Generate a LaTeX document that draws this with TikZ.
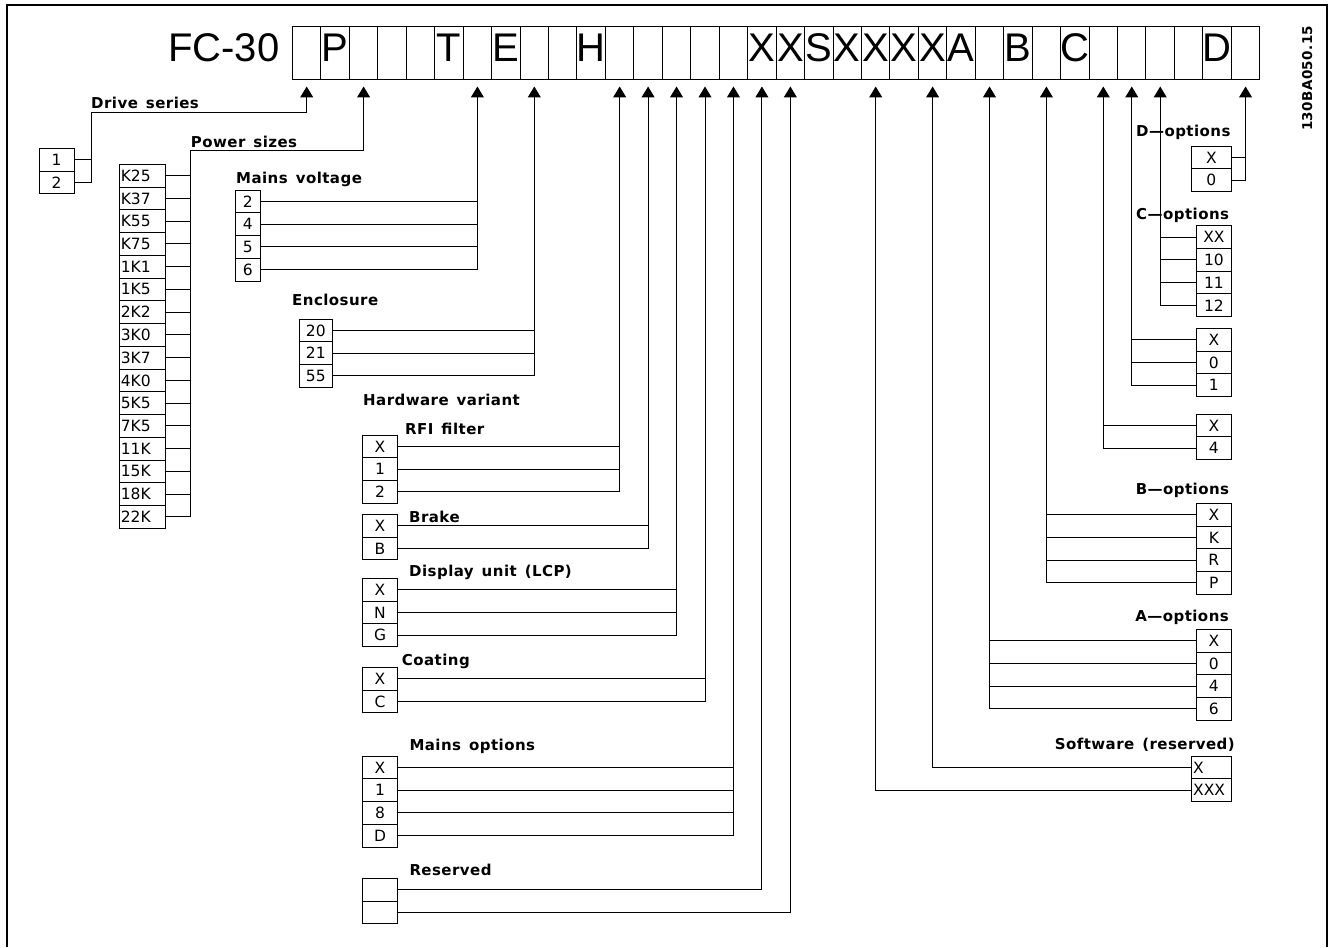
\documentclass[tikz,border=0pt]{standalone}
\usepackage{fontspec}
\setmainfont{DejaVu Sans}
\newfontfamily\codefam{Liberation Sans}
\newfontfamily\lblfam[LetterSpace=3]{DejaVu Sans}
\newcommand\lblfont{\lblfam\bfseries\fontsize{15}{16}\selectfont\spaceskip=8pt\relax}
\usetikzlibrary{positioning,arrows.meta}

\tikzset{
  cell/.style={draw, line width=1pt, minimum width=28.45pt, minimum height=52.6pt,
    inner sep=0pt, text height=29pt, text depth=11.6pt,
    font=\codefam\fontsize{40}{40}\selectfont},
  opt/.style={draw, line width=1pt, minimum height=22.75pt, inner sep=0pt,
    font=\fontsize{15.5}{16}\selectfont},
  lbl/.style={anchor=base west, inner sep=0pt, font=\lblfont},
  lblr/.style={lbl, anchor=base east},
  wire/.style={line width=1pt},
  feed/.style={wire, -{Triangle[length=11pt,width=13pt]}, shorten >=6.4pt},
}

\begin{document}
\begin{tikzpicture}[x=1pt, y=-1pt]
\useasboundingbox (0,0) rectangle (1329,947);

% Frame
\draw[line width=2.5pt] (7,947) -- (7,5) -- (1327,5) -- (1327,947);

% Type code cells
\foreach \i in {1,...,34}
  \node[cell] (c\i) at ({278.25+28.45*\i},53.3) {};
\foreach \i/\t in {2/P,6/T,8/E,11/H,17/X,18/X,19/S,20/X,21/X,22/X,23/X,24/A,26/B,28/C,33/D}
  \node[cell, draw=none] (l\i) at (c\i) {\t};
\node[cell, draw=none, minimum width=0pt, left=12pt of c1] (fc) {FC-30};
\node[lbl, rotate=90, font=\lblfam\bfseries\fontsize{13.5}{14}\selectfont] (dwg) at (1312,131) {130BA050.15};

% Drive series
\node[lbl] (dslbl) at (91,109) {Drive series};
\foreach \t [count=\k] in {1,2}
  \node[opt, minimum width=35pt] (ds\k) at (56.5,{136.925+22.75*\k}) {\t};
\coordinate (dsbend) at (91,113);
\draw[feed] (ds2.east) -| (dsbend) -| (c1.south);
\draw[wire] (ds1.east) -- (ds1.east -| dsbend);

% Power sizes
\node[lbl] (pslbl) at (190.7,147.3) {Power sizes};
\foreach \t [count=\k] in {K25,K37,K55,K75,1K1,1K5,2K2,3K0,3K7,4K0,5K5,7K5,11K,15K,18K,22K}
  \node[opt, text width=42.7pt, inner xsep=1.5pt, align=left] (ps\k) at (142.15,{152.925+22.75*\k}) {\t};
\coordinate (psbend) at (190.7,150.7);
\draw[feed] (ps16.east) -| (psbend) -| (c3.south);
\foreach \k in {1,...,15}
  \draw[wire] (ps\k.east) -- (ps\k.east -| psbend);

% Mains voltage
\node[lbl] (mvlbl) at (236,183.3) {Mains voltage};
\foreach \t [count=\k] in {2,4,5,6}
  \node[opt, minimum width=24.3pt] (mv\k) at (247.85,{178.625+22.75*\k}) {\t};
\draw[feed] (mv4.east) -| (c7.south);
\foreach \k in {1,2,3}
  \draw[wire] (mv\k.east) -- (mv\k.east -| c7.south);

% Enclosure
\node[lbl] (enlbl) at (292,305) {Enclosure};
\foreach \t [count=\k] in {20,21,55}
  \node[opt, minimum width=33pt] (en\k) at (315.8,{307.625+22.75*\k}) {\t};
\draw[feed] (en3.east) -| (c9.south);
\foreach \k in {1,2}
  \draw[wire] (en\k.east) -- (en\k.east -| c9.south);

% Hardware variant
\node[lbl] (hwlbl) at (363,405) {Hardware variant};

% RFI filter
\node[lbl] (rflbl) at (405,434) {RFI filter};
\foreach \t [count=\k] in {X,1,2}
  \node[opt, minimum width=34.6pt] (rf\k) at (380,{423.625+22.75*\k}) {\t};
\draw[feed] (rf3.east) -| (c12.south);
\foreach \k in {1,2}
  \draw[wire] (rf\k.east) -- (rf\k.east -| c12.south);

% Brake
\node[lbl] (brlbl) at (409,522.7) {Brake};
\foreach \t [count=\k] in {X,B}
  \node[opt, minimum width=34.6pt] (br\k) at (380,{502.925+22.75*\k}) {\t};
\draw[feed] (br2.east) -| (c13.south);
\draw[wire] (br1.east) -- (br1.east -| c13.south);

% Display unit
\node[lbl] (dulbl) at (409,576.7) {Display unit (LCP)};
\foreach \t [count=\k] in {X,N,G}
  \node[opt, minimum width=34.6pt] (du\k) at (380,{566.925+22.75*\k}) {\t};
\draw[feed] (du3.east) -| (c14.south);
\foreach \k in {1,2}
  \draw[wire] (du\k.east) -- (du\k.east -| c14.south);

% Coating
\node[lbl] (colbl) at (401.7,665) {Coating};
\foreach \t [count=\k] in {X,C}
  \node[opt, minimum width=34.6pt] (co\k) at (380,{655.925+22.75*\k}) {\t};
\draw[feed] (co2.east) -| (c15.south);
\draw[wire] (co1.east) -- (co1.east -| c15.south);

% Mains options
\node[lbl] (molbl) at (409.3,750) {Mains options};
\foreach \t [count=\k] in {X,1,8,D}
  \node[opt, minimum width=34.6pt] (mo\k) at (380,{744.625+22.75*\k}) {\t};
\draw[feed] (mo4.east) -| (c16.south);
\foreach \k in {1,2,3}
  \draw[wire] (mo\k.east) -- (mo\k.east -| c16.south);

% Reserved
\node[lbl] (rslbl) at (409.3,875) {Reserved};
\foreach \k in {1,2}
  \node[opt, minimum width=34.6pt] (rs\k) at (380,{866.925+22.75*\k}) {};
\draw[feed] (rs1.east) -| (c17.south);
\draw[feed] (rs2.east) -| (c18.south);

% D-options
\node[lbl] (dolbl) at (1136,136.7) {D—options};
\foreach \t [count=\k] in {X,0}
  \node[opt, minimum width=39.3pt] (dop\k) at (1211.35,{134.625+22.75*\k}) {\t};
\draw[feed] (dop2.east) -| (c34.south);
\draw[wire] (dop1.east) -- (dop1.east -| c34.south);

% C-options
\node[lbl] (cplbl) at (1136,219) {C—options};
\foreach \t [count=\k] in {XX,10,11,12}
  \node[opt, minimum width=34.3pt] (cop\k) at (1213.85,{214.325+22.75*\k}) {\t};
\draw[feed] (cop4.west) -| (c31.south);
\foreach \k in {1,2,3}
  \draw[wire] (cop\k.west) -- (cop\k.west -| c31.south);

% Option slot 30
\foreach \t [count=\k] in {X,0,1}
  \node[opt, minimum width=34.3pt] (xa\k) at (1213.85,{316.925+22.75*\k}) {\t};
\draw[feed] (xa3.west) -| (c30.south);
\foreach \k in {1,2}
  \draw[wire] (xa\k.west) -- (xa\k.west -| c30.south);

% Option slot 29
\foreach \t [count=\k] in {X,4}
  \node[opt, minimum width=34.3pt] (xb\k) at (1213.85,{402.625+22.75*\k}) {\t};
\draw[feed] (xb2.west) -| (c29.south);
\draw[wire] (xb1.west) -- (xb1.west -| c29.south);

% B-options
\node[lblr] (bplbl) at (1229.3,494.3) {B—options};
\foreach \t [count=\k] in {X,K,R,P}
  \node[opt, minimum width=34.3pt] (bop\k) at (1213.85,{491.925+22.75*\k}) {\t};
\draw[feed] (bop4.west) -| (c27.south);
\foreach \k in {1,2,3}
  \draw[wire] (bop\k.west) -- (bop\k.west -| c27.south);

% A-options
\node[lblr] (aplbl) at (1229,621.7) {A—options};
\foreach \t [count=\k] in {X,0,4,6}
  \node[opt, minimum width=34.3pt] (aop\k) at (1213.85,{617.925+22.75*\k}) {\t};
\draw[feed] (aop4.west) -| (c25.south);
\foreach \k in {1,2,3}
  \draw[wire] (aop\k.west) -- (aop\k.west -| c25.south);

% Software
\node[lblr] (swlbl) at (1235,749.3) {Software (reserved)};
\foreach \t [count=\k] in {X,XXX}
  \node[opt, text width=36.3pt, inner xsep=1.5pt, align=left] (sw\k) at (1211.35,{744.625+22.75*\k}) {\t};
\draw[feed] (sw1.west) -| (c23.south);
\draw[feed] (sw2.west) -| (c21.south);

\end{tikzpicture}
\end{document}
